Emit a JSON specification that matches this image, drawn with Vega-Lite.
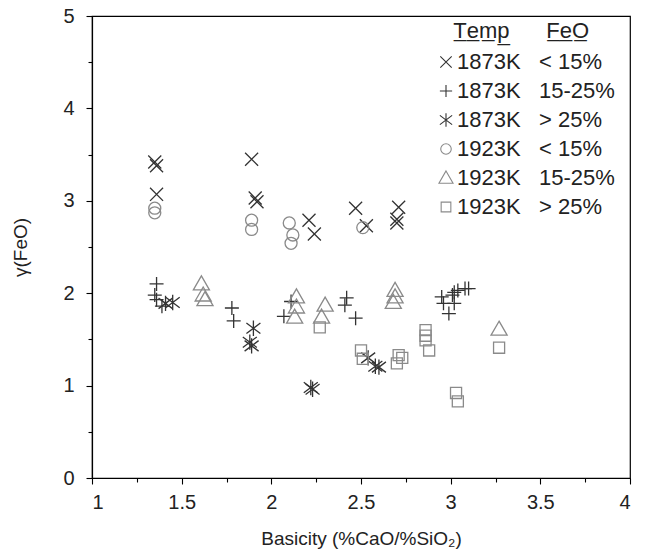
{
  "$schema": "https://vega.github.io/schema/vega-lite/v6.json",
  "width": 538,
  "height": 462,
  "autosize": {"type": "none"},
  "padding": {"left": 92, "top": 16, "right": 19, "bottom": 74},
  "background": "white",
  "config": {
    "font": "Liberation Sans",
    "view": {"stroke": "black", "strokeWidth": 1.2},
    "axis": {"grid": false, "domainColor": "black", "tickColor": "black", "labelColor": "#222", "titleColor": "#222", "labelFont": "Liberation Sans", "titleFont": "Liberation Sans", "labelFontSize": 20, "titleFontSize": 19, "titleFontWeight": "normal", "domainWidth": 1.2, "tickWidth": 1.1},
    "legend": {"titleFont": "Liberation Sans", "titleFontSize": 22, "titleFontWeight": "normal", "titleColor": "#222", "labelFont": "Liberation Sans", "labelFontSize": 22, "labelColor": "#222"}
  },
  "data": {"values": [
    {"s": "a", "b": 1.35, "g": 3.42}, {"s": "a", "b": 1.36, "g": 3.38}, {"s": "a", "b": 1.36, "g": 3.07},
    {"s": "a", "b": 1.89, "g": 3.45}, {"s": "a", "b": 1.91, "g": 3.03}, {"s": "a", "b": 1.92, "g": 2.99},
    {"s": "a", "b": 2.21, "g": 2.79}, {"s": "a", "b": 2.24, "g": 2.64}, {"s": "a", "b": 2.47, "g": 2.92},
    {"s": "a", "b": 2.53, "g": 2.73}, {"s": "a", "b": 2.71, "g": 2.93}, {"s": "a", "b": 2.70, "g": 2.76},
    {"s": "a", "b": 2.70, "g": 2.80},
    {"s": "b", "b": 1.36, "g": 2.10}, {"s": "b", "b": 1.35, "g": 1.98}, {"s": "b", "b": 1.36, "g": 1.93},
    {"s": "b", "b": 1.39, "g": 1.86}, {"s": "b", "b": 1.78, "g": 1.84}, {"s": "b", "b": 1.79, "g": 1.70},
    {"s": "b", "b": 2.07, "g": 1.75}, {"s": "b", "b": 2.11, "g": 1.91}, {"s": "b", "b": 2.42, "g": 1.95},
    {"s": "b", "b": 2.41, "g": 1.87}, {"s": "b", "b": 2.47, "g": 1.73}, {"s": "b", "b": 2.95, "g": 1.96},
    {"s": "b", "b": 2.96, "g": 1.89}, {"s": "b", "b": 3.01, "g": 1.98}, {"s": "b", "b": 3.02, "g": 2.01},
    {"s": "b", "b": 3.04, "g": 2.03}, {"s": "b", "b": 3.08, "g": 2.05}, {"s": "b", "b": 3.10, "g": 2.05},
    {"s": "b", "b": 3.02, "g": 1.89}, {"s": "b", "b": 2.99, "g": 1.78},
    {"s": "c", "b": 1.41, "g": 1.89}, {"s": "c", "b": 1.45, "g": 1.90}, {"s": "c", "b": 1.90, "g": 1.62},
    {"s": "c", "b": 1.88, "g": 1.47}, {"s": "c", "b": 1.89, "g": 1.43}, {"s": "c", "b": 2.22, "g": 0.98},
    {"s": "c", "b": 2.23, "g": 0.96}, {"s": "c", "b": 2.54, "g": 1.30}, {"s": "c", "b": 2.58, "g": 1.21},
    {"s": "c", "b": 2.60, "g": 1.20},
    {"s": "d", "b": 1.35, "g": 2.92}, {"s": "d", "b": 1.35, "g": 2.87}, {"s": "d", "b": 1.89, "g": 2.79},
    {"s": "d", "b": 1.89, "g": 2.69}, {"s": "d", "b": 2.10, "g": 2.76}, {"s": "d", "b": 2.12, "g": 2.63},
    {"s": "d", "b": 2.11, "g": 2.54}, {"s": "d", "b": 2.51, "g": 2.71},
    {"s": "e", "b": 1.61, "g": 2.10}, {"s": "e", "b": 1.62, "g": 1.98}, {"s": "e", "b": 1.63, "g": 1.93},
    {"s": "e", "b": 2.14, "g": 1.96}, {"s": "e", "b": 2.14, "g": 1.85}, {"s": "e", "b": 2.13, "g": 1.74},
    {"s": "e", "b": 2.30, "g": 1.87}, {"s": "e", "b": 2.28, "g": 1.74}, {"s": "e", "b": 2.69, "g": 2.03},
    {"s": "e", "b": 2.69, "g": 1.96}, {"s": "e", "b": 2.68, "g": 1.90}, {"s": "e", "b": 3.27, "g": 1.61},
    {"s": "f", "b": 2.27, "g": 1.63}, {"s": "f", "b": 2.50, "g": 1.38}, {"s": "f", "b": 2.51, "g": 1.29},
    {"s": "f", "b": 2.71, "g": 1.33}, {"s": "f", "b": 2.73, "g": 1.30}, {"s": "f", "b": 2.70, "g": 1.24},
    {"s": "f", "b": 2.86, "g": 1.60}, {"s": "f", "b": 2.86, "g": 1.54}, {"s": "f", "b": 2.86, "g": 1.49},
    {"s": "f", "b": 2.88, "g": 1.38}, {"s": "f", "b": 3.03, "g": 0.92}, {"s": "f", "b": 3.04, "g": 0.83},
    {"s": "f", "b": 3.27, "g": 1.41}
  ]},
  "mark": {"type": "point", "filled": false, "strokeWidth": 1.3, "opacity": 1, "size": 196},
  "encoding": {
    "x": {"field": "b", "type": "quantitative", "scale": {"domain": [1, 4], "nice": false, "zero": false},
      "axis": {"title": "Basicity (%CaO/%SiO₂)", "values": [1, 1.25, 1.5, 1.75, 2, 2.25, 2.5, 2.75, 3, 3.25, 3.5, 3.75, 4],
        "labelExpr": "datum.value % 0.5 === 0 ? format(datum.value, '~g') : ''",
        "tickSize": {"condition": {"test": "datum.value % 0.5 !== 0", "value": 4}, "value": 6},
        "labelPadding": 8, "titlePadding": 17}},
    "y": {"field": "g", "type": "quantitative", "scale": {"domain": [0, 5], "nice": false},
      "axis": {"title": "γ(FeO)", "values": [0, 0.5, 1, 1.5, 2, 2.5, 3, 3.5, 4, 4.5, 5],
        "labelExpr": "datum.value % 1 === 0 ? format(datum.value, '~g') : ''",
        "tickSize": {"condition": {"test": "datum.value % 1 !== 0", "value": 4}, "value": 6},
        "labelPadding": 12, "titlePadding": 32}},
    "shape": {"field": "s", "type": "nominal",
      "scale": {"domain": ["a", "b", "c", "d", "e", "f"],
        "range": ["M-0.93,-0.93L0.93,0.93M-0.93,0.93L0.93,-0.93", "M-1,0L1,0M0,-1L0,1", "M-1,-0.75L1,0.75M-1,0.75L1,-0.75M0,-1.1L0,1.1", "M0.86,0A0.86,0.86 0 1,1 -0.86,0A0.86,0.86 0 1,1 0.86,0Z", "M0,-1.15L1.15,0.85L-1.15,0.85Z", "M-0.79,-0.79L0.79,-0.79L0.79,0.79L-0.79,0.79Z"]},
      "legend": {
        "title": "\u200b\u00a0\u00a0\u00a0T̲e̲m̲p̲\u00a0\u00a0\u00a0\u00a0\u00a0\u00a0F̲e̲O̲",
        "orient": "none", "legendX": 343, "legendY": 5, "titlePadding": 8, "labelOffset": 0,
        "symbolSize": 150, "symbolStrokeWidth": 1.1, "rowPadding": 7,
        "labelExpr": "datum.label === 'a' ? '1873K\u00a0\u00a0\u00a0< 15%' : datum.label === 'b' ? '1873K\u00a0\u00a0\u00a015-25%' : datum.label === 'c' ? '1873K\u00a0\u00a0\u00a0> 25%' : datum.label === 'd' ? '1923K\u00a0\u00a0\u00a0< 15%' : datum.label === 'e' ? '1923K\u00a0\u00a0\u00a015-25%' : '1923K\u00a0\u00a0\u00a0> 25%'"
      }},
    "color": {"field": "s", "type": "nominal",
      "scale": {"domain": ["a", "b", "c", "d", "e", "f"], "range": ["#333333", "#333333", "#333333", "#8a8a8a", "#8a8a8a", "#8a8a8a"]},
      "legend": {
        "title": "\u200b\u00a0\u00a0\u00a0T̲e̲m̲p̲\u00a0\u00a0\u00a0\u00a0\u00a0\u00a0F̲e̲O̲",
        "orient": "none", "legendX": 343, "legendY": 5, "titlePadding": 8, "labelOffset": 0,
        "symbolSize": 150, "symbolStrokeWidth": 1.1, "rowPadding": 7,
        "labelExpr": "datum.label === 'a' ? '1873K\u00a0\u00a0\u00a0< 15%' : datum.label === 'b' ? '1873K\u00a0\u00a0\u00a015-25%' : datum.label === 'c' ? '1873K\u00a0\u00a0\u00a0> 25%' : datum.label === 'd' ? '1923K\u00a0\u00a0\u00a0< 15%' : datum.label === 'e' ? '1923K\u00a0\u00a0\u00a015-25%' : '1923K\u00a0\u00a0\u00a0> 25%'"
      }}
  }
}
